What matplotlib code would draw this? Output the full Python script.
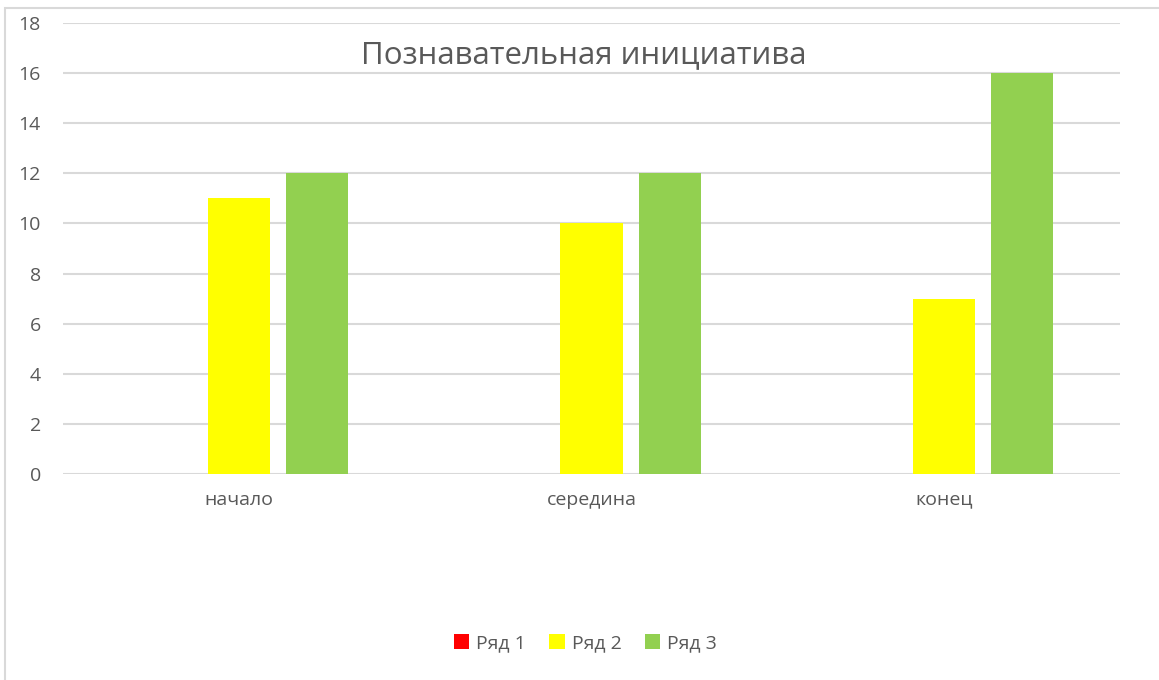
import numpy as np
import matplotlib.pyplot as plt
from matplotlib.patches import Rectangle

categories = ['начало', 'середина', 'конец']
series_names = ['Ряд 1', 'Ряд 2', 'Ряд 3']
row1 = [0, 0, 0]
row2 = [11, 10, 7]
row3 = [12, 12, 16]
colors = ['#ff0000', '#ffff00', '#92d050']

plt.rcParams['font.family'] = ['Open Sans', 'DejaVu Sans']

fig = plt.figure(figsize=(11.59, 6.80), dpi=100)
ax = fig.add_axes([63 / 1159, 1 - 474 / 680, (1120 - 63) / 1159, (474 - 23) / 680])

# chart border (cut off at right and bottom)
fig.patches.append(Rectangle((5 / 1159, -0.05), 1.2, 1 - 8 / 680 + 0.05, transform=fig.transFigure,
                             fill=False, edgecolor='#d9d9d9', linewidth=1.5))

x = np.arange(len(categories))
width = 0.176
offsets = [-0.222, 0, 0.222]
handles = []
for vals, name, c, off in zip([row1, row2, row3], series_names, colors, offsets):
    h = ax.bar(x + off, vals, width, color=c, label=name, zorder=3)
    handles.append(h)

ax.set_xlim(-0.5, 2.5)
ax.set_ylim(0, 18)
ax.set_yticks(range(0, 19, 2))
ax.set_xticks(x)
ax.set_xticklabels(categories)
ax.yaxis.grid(True, color='#d9d9d9', linewidth=1.5, zorder=0)
for s in ax.spines.values():
    s.set_visible(False)
ax.tick_params(axis='both', length=0, labelsize=14, colors='#595959')
ax.tick_params(axis='y', pad=16)
ax.tick_params(axis='x', pad=12)

fig.text(0.504, 1 - 55 / 680, 'Познавательная инициатива', ha='center', va='center',
         fontsize=22.5, color='#595959')

fig.legend(handles=handles, loc='center', bbox_to_anchor=(0.505, 1 - 643 / 680), ncol=3,
           frameon=False, fontsize=14, labelcolor='#595959', handlelength=0.8, handleheight=0.8,
           handletextpad=0.35, columnspacing=1.2)

fig.savefig('out.png', dpi=100)
